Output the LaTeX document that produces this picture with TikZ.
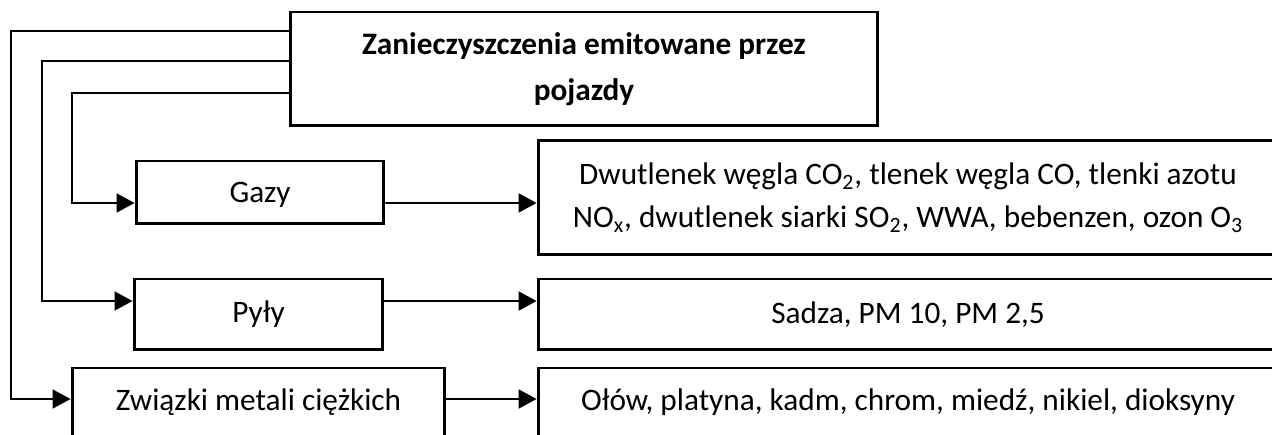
\documentclass[tikz,border=0pt]{standalone}
\usepackage{fontspec}
\setmainfont{Carlito}
\usetikzlibrary{arrows.meta}

\begin{document}
\begin{tikzpicture}[
    x=0.02cm, y=-0.02cm,
    box/.style={draw, line width=1.7pt, minimum width=4.96cm, minimum height=1.26cm, align=center, font=\fontsize{17.8}{24.5}\selectfont},
    result/.style={box, minimum width=14.8cm},
    arrow/.style={-{Triangle[length=0.36cm, width=0.38cm]}, line width=1.1pt},
]
    \useasboundingbox (0,0) rectangle (1272,435);
    \clip (0,0) rectangle (1272,435);

    % Main box
    \node[box, minimum width=11.76cm, minimum height=2.28cm, font=\fontsize{17.8}{26}\selectfont\bfseries] (title) at (584,69) {Zanieczyszczenia emitowane przez\\pojazdy};

    % Categories
    \node[box] (gazy) at (260,192.5) {\raisebox{-0.04cm}[\height][\depth]{Gazy}};
    \node[box, minimum width=4.98cm, minimum height=1.42cm] (pyly) at (258.5,314.5) {Pyły};
    \node[box, minimum width=7.46cm, minimum height=1.6cm] (metale) at (258.5,408) {\raisebox{0.12cm}[\height][\depth]{Związki metali ciężkich}};

    % Results
    \node[result, minimum height=2.3cm] (gazyres) at (908,197.5) {Dwutlenek węgla CO\textsubscript{2}, tlenek węgla CO, tlenki azotu\\NO\textsubscript{x}, dwutlenek siarki SO\textsubscript{2}, WWA, bebenzen, ozon O\textsubscript{3}};
    \node[result, minimum height=1.42cm] (pylyres) at (908,314.5) {Sadza, PM 10, PM 2,5};
    \node[result, minimum height=1.6cm] (metaleres) at (908,408) {\raisebox{0.12cm}[\height][\depth]{Ołów, platyna, kadm, chrom, miedź, nikiel, dioksyny}};

    % Branches from main box
    \draw[arrow] ([yshift=0.76cm]title.west) -| ([xshift=-1.2cm, yshift=0.18cm]metale.west) -- ([yshift=0.18cm]metale.west);
    \draw[arrow] ([yshift=0.16cm]title.west) -| ([xshift=-1.82cm, yshift=0.27cm]pyly.west) -- ([yshift=0.27cm]pyly.west);
    \draw[arrow] ([yshift=-0.48cm]title.west) -| ([xshift=-1.26cm, yshift=-0.21cm]gazy.west) -- ([yshift=-0.21cm]gazy.west);

    % Categories to results
    \draw[arrow] ([yshift=-0.21cm]gazy.east) -- ([yshift=-0.11cm]gazyres.west);
    \draw[arrow] ([yshift=0.27cm]pyly.east) -- ([yshift=0.27cm]pylyres.west);
    \draw[arrow] ([yshift=0.18cm]metale.east) -- ([yshift=0.18cm]metaleres.west);
\end{tikzpicture}
\end{document}
